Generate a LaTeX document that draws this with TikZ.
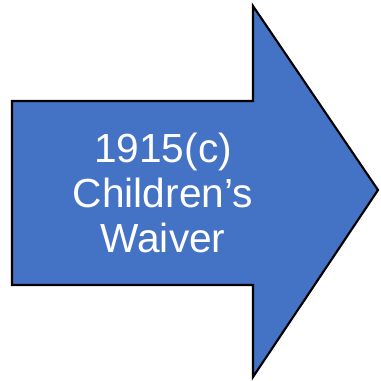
\documentclass[tikz,border=0pt]{standalone}
\usepackage{fontspec}
\setmainfont{Liberation Sans}
\usepackage{xcolor}
\definecolor{arrowblue}{HTML}{4472C4}

\begin{document}
\begin{tikzpicture}[
    x=0.75pt, y=-0.75pt,
    bigarrow/.style={draw=black, line width=1.6pt, fill=arrowblue, line join=miter},
    label/.style={text=white, align=center, font=\fontsize{30.5}{33.5}\selectfont}
  ]
  \useasboundingbox (0,0) rectangle (380,381);

  % Arrow shape
  \draw[bigarrow] (12,101) -- (253,101) -- (253,6) -- (378,190)
    -- (253,377) -- (253,285) -- (12,285) -- cycle;

  % Label
  \node[label] (waiver) at (163,193) {1915(c)\\Children’s\\Waiver};
\end{tikzpicture}
\end{document}
